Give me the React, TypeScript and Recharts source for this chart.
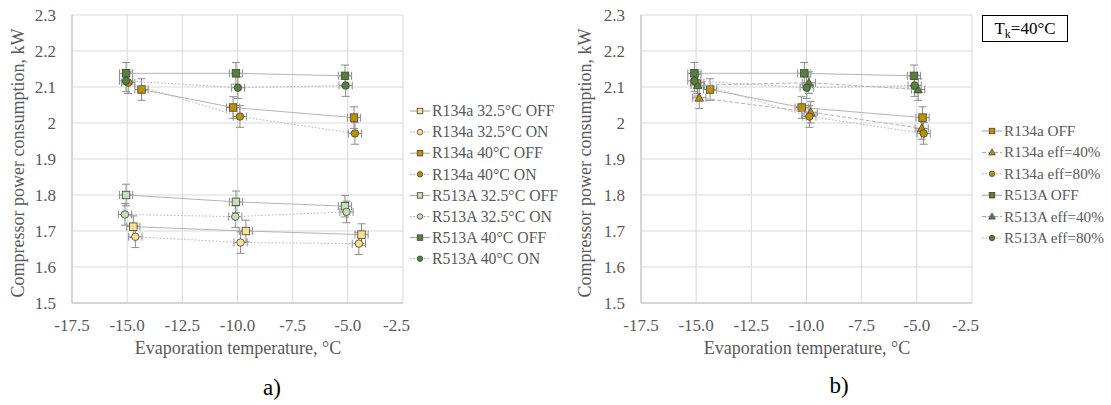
import React from "react";
import {
  ScatterChart,
  Scatter,
  XAxis,
  YAxis,
  CartesianGrid,
  ErrorBar,
} from "recharts";

// axis ticks
const xTicks = [-17.5, -15, -12.5, -10, -7.5, -5, -2.5];
const yTicks = [1.5, 1.6, 1.7, 1.8, 1.9, 2.0, 2.1, 2.2, 2.3];

// error bar half widths
const ERR_X = 0.3;
const ERR_Y = 0.03;

// a) chart series [x, y]
const r134a325Off = [[-14.72, 1.712], [-9.62, 1.7], [-4.38, 1.69]];
const r134a325On = [[-14.63, 1.684], [-9.86, 1.668], [-4.5, 1.665]];
const r134a40Off = [[-14.35, 2.093], [-10.2, 2.043], [-4.72, 2.015]];
const r134a40On = [[-14.95, 2.112], [-9.89, 2.018], [-4.68, 1.971]];
const r513a325Off = [[-15.05, 1.8], [-10.07, 1.781], [-5.13, 1.769]];
const r513a325On = [[-15.1, 1.746], [-10.1, 1.74], [-5.06, 1.753]];
const r513a40Off = [[-15.05, 2.138], [-10.07, 2.138], [-5.13, 2.131]];
const r513a40On = [[-15.05, 2.117], [-9.98, 2.098], [-5.1, 2.104]];

// b) chart series [x, y]
const r134aOff = [[-14.37, 2.093], [-10.22, 2.043], [-4.74, 2.015]];
const r134aEff40 = [[-14.86, 2.07], [-9.81, 2.03], [-4.78, 1.985]];
const r134aEff80 = [[-14.95, 2.112], [-9.87, 2.018], [-4.69, 1.971]];
const r513aOff = [[-15.08, 2.138], [-10.1, 2.138], [-5.13, 2.131]];
const r513aEff40 = [[-14.93, 2.105], [-9.89, 2.112], [-4.94, 2.093]];
const r513aEff80 = [[-15.08, 2.117], [-9.99, 2.098], [-5.1, 2.104]];

const LIGHT_YELLOW = "#FFE08A";
const GOLD = "#BF9000";
const LIGHT_GREEN = "#C5E0B4";
const DARK_GREEN = "#548235";
const LINE_GRAY = "#B4B4B4";
const TEXT_GRAY = "#595959";
const FONT = "Liberation Serif, DejaVu Serif, serif";

const SOLID = undefined;
const DOTTED = "1.5 2";
const DASHED = "4 2";

type Kind = "square" | "circle" | "triangle";
interface Series {
  name: string;
  points: number[][];
  fill: string;
  kind: Kind;
  dash?: string;
}

const seriesA: Series[] = [
  { name: "R134a 32.5°C OFF", points: r134a325Off, fill: LIGHT_YELLOW, kind: "square", dash: SOLID },
  { name: "R134a 32.5°C ON", points: r134a325On, fill: LIGHT_YELLOW, kind: "circle", dash: DOTTED },
  { name: "R134a 40°C OFF", points: r134a40Off, fill: GOLD, kind: "square", dash: SOLID },
  { name: "R134a 40°C ON", points: r134a40On, fill: GOLD, kind: "circle", dash: DOTTED },
  { name: "R513A 32.5°C OFF", points: r513a325Off, fill: LIGHT_GREEN, kind: "square", dash: SOLID },
  { name: "R513A 32.5°C ON", points: r513a325On, fill: LIGHT_GREEN, kind: "circle", dash: DOTTED },
  { name: "R513A 40°C OFF", points: r513a40Off, fill: DARK_GREEN, kind: "square", dash: SOLID },
  { name: "R513A 40°C ON", points: r513a40On, fill: DARK_GREEN, kind: "circle", dash: DOTTED },
];

const seriesB: Series[] = [
  { name: "R134a OFF", points: r134aOff, fill: GOLD, kind: "square", dash: SOLID },
  { name: "R134a eff=40%", points: r134aEff40, fill: GOLD, kind: "triangle", dash: DASHED },
  { name: "R134a eff=80%", points: r134aEff80, fill: GOLD, kind: "circle", dash: DOTTED },
  { name: "R513A OFF", points: r513aOff, fill: DARK_GREEN, kind: "square", dash: SOLID },
  { name: "R513A eff=40%", points: r513aEff40, fill: DARK_GREEN, kind: "triangle", dash: DASHED },
  { name: "R513A eff=80%", points: r513aEff80, fill: DARK_GREEN, kind: "circle", dash: DOTTED },
];

const toData = (pts: number[][]) =>
  pts.map(([x, y]) => ({ x, y, ex: ERR_X, ey: ERR_Y }));

const Marker = ({ kind, fill, cx, cy, s }: { kind: Kind; fill: string; cx: number; cy: number; s: number }) => {
  const stroke = "#404040";
  if (kind === "square")
    return <rect x={cx - s / 2} y={cy - s / 2} width={s} height={s} fill={fill} stroke={stroke} strokeWidth={0.8} />;
  if (kind === "circle")
    return <circle cx={cx} cy={cy} r={s / 2} fill={fill} stroke={stroke} strokeWidth={0.8} />;
  const h = s * 0.9;
  return (
    <polygon
      points={`${cx},${cy - h / 2 - 1} ${cx - s / 2 - 0.5},${cy + h / 2} ${cx + s / 2 + 0.5},${cy + h / 2}`}
      fill={fill}
      stroke={stroke}
      strokeWidth={0.8}
    />
  );
};

const Panel = ({ left, series }: { left: number; series: Series[] }) => (
  <div style={{ position: "absolute", left, top: 0 }}>
    <ScatterChart
      width={410}
      height={340}
      margin={{ top: 15, right: 7, bottom: 7, left: 32 }}
    >
      <CartesianGrid stroke="#D9D9D9" />
      <XAxis
        type="number"
        dataKey="x"
        domain={[-17.5, -2.5]}
        ticks={xTicks}
        tickFormatter={(v: number) => v.toFixed(1)}
        axisLine={{ stroke: "#BFBFBF" }}
        tickLine={false}
        tickSize={0}
        tickMargin={16}
        height={30}
        tick={{ fill: TEXT_GRAY, fontSize: 17, fontFamily: FONT }}
      />
      <YAxis
        type="number"
        dataKey="y"
        domain={[1.5, 2.3]}
        ticks={yTicks}
        tickFormatter={(v: number) => String(Number(v.toFixed(1)))}
        axisLine={{ stroke: "#BFBFBF" }}
        tickLine={false}
        tickSize={0}
        tickMargin={16}
        width={40}
        tick={{ fill: TEXT_GRAY, fontSize: 17, fontFamily: FONT }}
      />
      {series.map((s) => (
        <Scatter
          key={s.name}
          name={s.name}
          data={toData(s.points)}
          isAnimationActive={false}
          line={{ stroke: LINE_GRAY, strokeWidth: 1, strokeDasharray: s.dash }}
          lineType="joint"
          shape={(p: any) => <Marker kind={s.kind} fill={s.fill} cx={p.cx} cy={p.cy} s={7.5} />}
        >
          <ErrorBar dataKey="ex" direction="x" width={4} stroke="#8C8C8C" strokeWidth={1} />
          <ErrorBar dataKey="ey" direction="y" width={4} stroke="#8C8C8C" strokeWidth={1} />
        </Scatter>
      ))}
    </ScatterChart>
  </div>
);

const Legend = ({ left, top, step, size, width, series }: { left: number; top: number; step: number; size: number; width: number; series: Series[] }) => (
  <svg
    style={{ position: "absolute", left, top }}
    width={width}
    height={step * series.length + 10}
  >
    {series.map((s, i) => {
      const cy = 8 + i * step;
      return (
        <g key={s.name}>
          <line x1={0} x2={20} y1={cy} y2={cy} stroke="#A0A0A0" strokeWidth={1} strokeDasharray={s.dash} />
          <Marker kind={s.kind} fill={s.fill} cx={10} cy={cy} s={5.5} />
          <text x={22} y={cy + size * 0.33} fontSize={size} fontFamily={FONT} fill={TEXT_GRAY}>
            {s.name}
          </text>
        </g>
      );
    })}
  </svg>
);

const textStyle: React.CSSProperties = {
  position: "absolute",
  fontFamily: FONT,
  color: TEXT_GRAY,
  whiteSpace: "nowrap",
};

const YTitle = ({ x }: { x: number }) => (
  <div
    style={{
      ...textStyle,
      fontSize: 18,
      left: x,
      top: 163,
      transform: "translate(-50%, -50%) rotate(-90deg)",
    }}
  >
    Compressor power consumption, kW
  </div>
);

const XTitle = ({ x }: { x: number }) => (
  <div style={{ ...textStyle, fontSize: 18, left: x, top: 348, transform: "translate(-50%, -50%)" }}>
    Evaporation temperature, °C
  </div>
);

export default function App() {
  return (
    <div
      style={{
        position: "absolute",
        left: 0,
        top: 0,
        width: 1111,
        height: 405,
        background: "#fff",
        overflow: "hidden",
      }}
    >
      <Panel left={0} series={seriesA} />
      <Panel left={569} series={seriesB} />
      <YTitle x={18} />
      <YTitle x={585} />
      <XTitle x={238} />
      <XTitle x={807} />
      <Legend left={410} top={103} step={21.1} size={15.8} width={152} series={seriesA} />
      <Legend left={982} top={123} step={21.4} size={15.2} width={128} series={seriesB} />
      <div
        style={{
          position: "absolute",
          left: 982,
          top: 15,
          width: 84,
          height: 25,
          border: "1px solid #000",
          fontFamily: FONT,
          fontSize: 17,
          color: "#000",
          textAlign: "center",
          lineHeight: "25px",
        }}
      >
        T<sub style={{ fontSize: 12, lineHeight: 0 }}>k</sub>=40°C
      </div>
      <div style={{ ...textStyle, color: "#000", fontSize: 23, left: 272, top: 388, transform: "translate(-50%, -50%)" }}>
        a)
      </div>
      <div style={{ ...textStyle, color: "#000", fontSize: 23, left: 839, top: 386, transform: "translate(-50%, -50%)" }}>
        b)
      </div>
    </div>
  );
}
